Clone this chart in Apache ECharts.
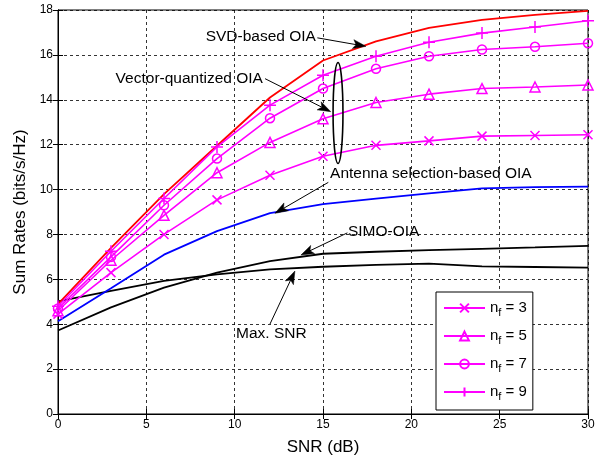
<!DOCTYPE html>
<html>
<head>
<meta charset="utf-8">
<script src="https://cdn.jsdelivr.net/npm/echarts@6/dist/echarts.min.js"></script>
<style>
html,body{margin:0;padding:0;background:#fff;}
#c{width:608px;height:461px;}
</style>
</head>
<body>
<div id="c"></div>
<script>
// ---- data ----
var snr = [0, 3, 6, 9, 12, 15, 18, 21, 24, 27, 30];
var svdOIA = [4.9, 7.4, 9.8, 11.95, 14.1, 15.75, 16.6, 17.2, 17.56, 17.78, 17.96];
var nf9 = [4.8, 7.25, 9.6, 11.9, 13.76, 15.09, 15.94, 16.56, 16.97, 17.24, 17.52];
var nf7 = [4.7, 7.0, 9.3, 11.38, 13.18, 14.5, 15.38, 15.94, 16.24, 16.36, 16.52];
var nf5 = [4.6, 6.85, 8.85, 10.75, 12.1, 13.15, 13.88, 14.25, 14.5, 14.57, 14.66];
var nf3 = [4.45, 6.3, 8.0, 9.54, 10.64, 11.48, 11.97, 12.17, 12.38, 12.41, 12.44];
var antennaOIA = [4.13, 5.6, 7.1, 8.15, 8.95, 9.35, 9.6, 9.83, 10.05, 10.11, 10.13];
var simoOIA = [3.72, 4.75, 5.63, 6.3, 6.81, 7.14, 7.23, 7.3, 7.36, 7.42, 7.49];
var maxSNR = [5.02, 5.49, 5.93, 6.22, 6.44, 6.56, 6.64, 6.7, 6.58, 6.55, 6.52];
var nfValues = ['3', '5', '7', '9'];
var xTicks = [0, 5, 10, 15, 20, 25, 30];
var yTicks = [0, 2, 4, 6, 8, 10, 12, 14, 16, 18];

// annotations in data coordinates: text anchor, line start, arrow tip
var annotations = [
  {text: 'SVD-based OIA', at: [14.6, 16.8], align: 'right', from: [14.68, 16.76], to: [17.43, 16.38]},
  {text: 'Vector-quantized OIA', at: [11.6, 14.92], align: 'right', from: [11.72, 14.94], to: [15.44, 13.47]},
  {text: 'Antenna selection-based OIA', at: [15.4, 10.72], align: 'left', from: [15.3, 10.32], to: [12.28, 8.94]},
  {text: 'SIMO-OIA', at: [16.41, 8.11], align: 'left', from: [16.38, 8.07], to: [13.75, 7.08]},
  {text: 'Max. SNR', at: [10.08, 3.57], align: 'left', from: [12.0, 4.01], to: [13.41, 6.37]}
];
var ellipseCenter = [15.85, 13.41];
var ellipseRadius = [0.28, 2.25];

function pairs(ys) { return snr.map(function (x, i) { return [x, ys[i]]; }); }

var FONT = 'Liberation Sans, Arial, Helvetica, sans-serif';
var MAG = '#ff00ff';
var symX = 'path://M0,0L10,10M10,0L0,10';
var symPlus = 'path://M5,0L5,10M0,5L10,5';
var symTri = 'path://M5,0L10,9L0,9Z';
var symCirc = 'path://M10,5A5,5,0,1,1,0,5A5,5,0,1,1,10,5Z';

function magSeries(idx, ys, sym, size) {
  return {
    name: 'nf' + nfValues[idx],
    type: 'line',
    data: pairs(ys),
    symbol: sym,
    symbolSize: size,
    showAllSymbol: true,
    lineStyle: {color: MAG, width: 1.6},
    itemStyle: {color: 'rgba(0,0,0,0)', borderColor: MAG, borderWidth: 1.5},
    emphasis: {disabled: true},
    z: 3
  };
}

function plainSeries(ys, color, width) {
  return {
    type: 'line', data: pairs(ys), symbol: 'none', showSymbol: false,
    lineStyle: {color: color, width: width}, emphasis: {disabled: true}, z: 2
  };
}

var chart = echarts.init(document.getElementById('c'), null, {renderer: 'canvas'});

var axisCommon = {
  axisLine: {show: true, lineStyle: {color: '#000', width: 1}},
  axisTick: {show: true, inside: true, length: 5, lineStyle: {color: '#000'}},
};

chart.setOption({
  animation: false,
  backgroundColor: '#fff',
  textStyle: {fontFamily: FONT},
  grid: {left: 58, right: 20, top: 10, bottom: 44, show: true, borderColor: '#000', borderWidth: 1, backgroundColor: '#fff'},
  legend: {
    orient: 'vertical',
    left: 436, top: 292,
    data: nfValues.map(function (v) { return 'nf' + v; }),
    itemWidth: 41, itemHeight: 11,
    itemGap: 8,
    padding: [6, 6, 8, 7],
    borderColor: '#000', borderWidth: 1,
    backgroundColor: '#fff',
    selectedMode: false,
    formatter: function (name) { return '{a|n}{b|f}{a| = ' + name.slice(2) + '}'; },
    textStyle: {
      color: '#000', fontFamily: FONT,
      rich: {
        a: {fontSize: 15, fontFamily: FONT, color: '#000', lineHeight: 20},
        b: {fontSize: 11, fontFamily: FONT, color: '#000', lineHeight: 20, verticalAlign: 'bottom', padding: [9, 0, 0, 0]}
      }
    }
  },
  xAxis: [
    Object.assign({
      type: 'value', min: 0, max: 30, interval: 5,
      name: 'SNR (dB)', nameLocation: 'middle', nameGap: 25,
      nameTextStyle: {fontSize: 17, color: '#000', fontFamily: FONT},
      axisLabel: {color: '#000', fontSize: 12, margin: 5, fontFamily: FONT,
        formatter: function (v) { return xTicks.indexOf(v) >= 0 ? String(v) : ''; }},
      splitLine: {show: true, lineStyle: {color: '#000', type: [3, 3], width: 0.8}}
    }, axisCommon),
    Object.assign({
      type: 'value', min: 0, max: 30, interval: 5, position: 'top',
      axisLabel: {show: false}, splitLine: {show: false}
    }, axisCommon)
  ],
  yAxis: [
    Object.assign({
      type: 'value', min: 0, max: 18, interval: 2,
      name: 'Sum Rates (bits/s/Hz)', nameLocation: 'middle', nameGap: 25,
      nameTextStyle: {fontSize: 17, color: '#000', fontFamily: FONT},
      axisLabel: {color: '#000', fontSize: 12, margin: 5, fontFamily: FONT,
        formatter: function (v) { return yTicks.indexOf(v) >= 0 ? String(v) : ''; }},
      splitLine: {show: true, lineStyle: {color: '#000', type: [3, 3], width: 0.8}}
    }, axisCommon),
    Object.assign({
      type: 'value', min: 0, max: 18, interval: 2, position: 'right',
      axisLabel: {show: false}, splitLine: {show: false}
    }, axisCommon)
  ],
  series: [
    plainSeries(maxSNR, '#000', 1.8),
    plainSeries(simoOIA, '#000', 1.8),
    plainSeries(antennaOIA, '#0000ff', 1.8),
    plainSeries(svdOIA, '#ff0000', 1.8),
    magSeries(0, nf3, symX, 9),
    magSeries(1, nf5, symTri, 10),
    magSeries(2, nf7, symCirc, 9),
    magSeries(3, nf9, symPlus, 12)
  ]
});

// ---- annotations (positioned via the chart's own coordinate conversion) ----
function px(p) { return chart.convertToPixel({gridIndex: 0}, p); }
var graphics = [];
annotations.forEach(function (a) {
  var t = px(a.at), f = px(a.from), e = px(a.to);
  graphics.push({
    type: 'text', z: 10,
    style: {text: a.text, x: t[0], y: t[1], fill: '#000', font: '15.5px ' + FONT,
      align: a.align, verticalAlign: 'middle', textAlign: a.align, textVerticalAlign: 'middle'}
  });
  var dx = e[0] - f[0], dy = e[1] - f[1], len = Math.sqrt(dx * dx + dy * dy);
  var ux = dx / len, uy = dy / len, nx = -uy, ny = ux;
  var L = 13, W = 4.5, N = 3;
  var bx = e[0] - L * ux, by = e[1] - L * uy;
  graphics.push({
    type: 'line', z: 10,
    shape: {x1: f[0], y1: f[1], x2: e[0] - (L - N) * ux, y2: e[1] - (L - N) * uy},
    style: {stroke: '#000', lineWidth: 1}
  });
  graphics.push({
    type: 'polygon', z: 10,
    shape: {points: [[e[0], e[1]], [bx + W * nx, by + W * ny], [e[0] - (L - N) * ux, e[1] - (L - N) * uy], [bx - W * nx, by - W * ny]]},
    style: {fill: '#000', stroke: '#000', lineWidth: 0.5}
  });
});
var ec = px(ellipseCenter);
var er = px([ellipseCenter[0] + ellipseRadius[0], ellipseCenter[1] + ellipseRadius[1]]);
graphics.push({
  type: 'ellipse', z: 10,
  shape: {cx: ec[0], cy: ec[1], rx: Math.abs(er[0] - ec[0]), ry: Math.abs(er[1] - ec[1])},
  style: {fill: 'none', stroke: '#000', lineWidth: 1.6}
});
chart.setOption({graphic: graphics});
</script>
</body>
</html>
